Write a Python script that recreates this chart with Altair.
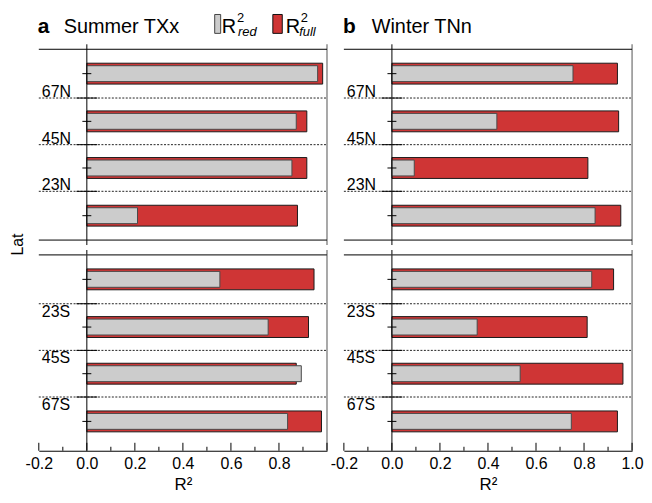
import altair as alt
import pandas as pd

FONT = "Liberation Sans"
RED = "#cf3535"
GRAY = "#cccccc"
PANEL_W = 290
SUB_H = 202

X_MIN, X_MAX = -0.2, 1.0

# latitude band centres (deg) and band boundaries
north_centers = [78.5, 56.0, 34.0, 11.5]
south_centers = [-11.5, -34.0, -56.0, -78.5]
north_bounds = [67, 45, 23]
north_bound_labels = ["67N", "45N", "23N"]
south_bounds = [-23, -45, -67]
south_bound_labels = ["23S", "45S", "67S"]

# a: Summer TXx
txx_full_north = [0.982, 0.916, 0.916, 0.877]
txx_red_north = [0.961, 0.872, 0.854, 0.211]
txx_full_south = [0.946, 0.923, 0.872, 0.977]
txx_red_south = [0.554, 0.755, 0.893, 0.836]

# b: Winter TNn
tnn_full_north = [0.939, 0.944, 0.816, 0.953]
tnn_red_north = [0.754, 0.437, 0.093, 0.846]
tnn_full_south = [0.923, 0.813, 0.962, 0.939]
tnn_red_south = [0.832, 0.355, 0.534, 0.747]

x_major = [-0.2, 0.0, 0.2, 0.4, 0.6, 0.8, 1.0]
x_minor = [-0.1, 0.1, 0.3, 0.5, 0.7, 0.9]
x_labels_a = [-0.2, 0.0, 0.2, 0.4, 0.6, 0.8]
x_labels_b = [-0.2, 0.0, 0.2, 0.4, 0.6, 0.8, 1.0]

one = pd.DataFrame({"k": [0]})


def txt(s, x, y, size, **kw):
    return alt.Chart(one).mark_text(
        text=s, align="left", baseline="alphabetic", fontSize=size, color="black", **kw
    ).encode(x=alt.value(x), y=alt.value(y))


def header(letter, name, name_x, legend=False):
    layers = [
        txt(letter, -1, -11, 21, fontWeight="bold"),
        txt(name, name_x, -11, 20),
    ]
    if legend:
        layers += [
            alt.Chart(one).mark_rect(fill=GRAY, stroke="#444", strokeWidth=1).encode(
                x=alt.value(177), x2=alt.value(183), y=alt.value(-30), y2=alt.value(-11)),
            txt("R", 184, -11, 20),
            txt("2", 199.5, -22, 13),
            txt("red", 200.5, -8, 13, fontStyle="italic"),
            alt.Chart(one).mark_rect(fill=RED, stroke="#111", strokeWidth=1).encode(
                x=alt.value(235.5), x2=alt.value(245), y=alt.value(-30), y2=alt.value(-11)),
            txt("R", 248.5, -11, 20),
            txt("2", 263.5, -22, 13),
            txt("full", 262, -8, 13, fontStyle="italic"),
        ]
    return layers


def subpanel(centers, full, red, bounds, blabels, north, xlabels=None, yaxis=None, extra=()):
    ydom = [0, 90] if north else [-90, 0]
    ysc = alt.Scale(domain=ydom, nice=False, zero=False)
    xsc = alt.Scale(domain=[X_MIN, X_MAX], nice=False, zero=False)
    if xlabels is not None:
        xax = alt.Axis(
            values=xlabels,
            labelExpr="datum.value < 0 ? '-' + format(-datum.value, '.1f') : format(datum.value, '.1f')",
            ticks=False, domain=True, domainColor="black", domainWidth=1, grid=False,
            labelFontSize=16, labelColor="black", labelPadding=5, labelFlush=False,
            title="R²", titleFontSize=17, titleFontWeight="normal", titleColor="black",
            titlePadding=5,
        )
    else:
        xax = None

    def X(f):
        return alt.X(f, type="quantitative", scale=xsc, axis=xax)

    def Y(f):
        return alt.Y(f, type="quantitative", scale=ysc, axis=yaxis)

    bars_df = pd.DataFrame({"lat": centers, "full": full, "red": red})
    bounds_df = pd.DataFrame({"lat": bounds, "label": blabels})

    layers = []
    layers.append(
        alt.Chart(bounds_df).mark_rule(strokeDash=[2, 1.5], color="#222", strokeWidth=1)
        .encode(y=Y("lat"), x=alt.value(0), x2=alt.value(PANEL_W))
    )
    layers.append(
        alt.Chart(bars_df).mark_bar(size=21, fill=RED, stroke="#1a1a1a", strokeWidth=1)
        .encode(x=X("full"), x2=alt.datum(0), y=Y("lat"))
    )
    layers.append(
        alt.Chart(bars_df).mark_bar(size=16, fill=GRAY, stroke="#4a4a4a", strokeWidth=1)
        .encode(x=X("red"), x2=alt.datum(0), y=Y("lat"))
    )
    layers.append(
        alt.Chart(bounds_df).mark_tick(orient="horizontal", size=21, thickness=1,
                                       color="black", opacity=1)
        .encode(x=alt.datum(0), y=Y("lat"))
    )
    layers.append(
        alt.Chart(bars_df).mark_tick(orient="horizontal", size=9, thickness=1,
                                     color="black", opacity=1)
        .encode(x=alt.datum(0), y=Y("lat"))
    )
    layers.append(
        alt.Chart(bounds_df).mark_text(align="left", baseline="alphabetic", dx=3,
                                       dy=-1 if north else 13, fontSize=16, color="black")
        .encode(x=alt.datum(X_MIN), y=Y("lat"), text="label:N")
    )
    # zero line and frame
    layers.append(alt.Chart(one).mark_rule(color="black", strokeWidth=1).encode(x=alt.datum(0)))
    layers.append(alt.Chart(one).mark_rule(color="#8c8c8c", strokeWidth=1.5).encode(x=alt.datum(X_MAX)))
    if north:
        layers.append(alt.Chart(one).mark_rule(color="black", strokeWidth=1).encode(y=alt.datum(90)))
        layers.append(alt.Chart(one).mark_rule(color="black", strokeWidth=1).encode(y=alt.datum(0)))
    else:
        layers.append(alt.Chart(one).mark_rule(color="#333", strokeWidth=1.3).encode(y=alt.datum(0)))
        layers.append(
            alt.Chart(pd.DataFrame({"v": x_major})).mark_rule(color="black", strokeWidth=1)
            .encode(x=X("v"), y=alt.value(SUB_H), y2=alt.value(SUB_H - 8))
        )
        layers.append(
            alt.Chart(pd.DataFrame({"v": x_minor})).mark_rule(color="black", strokeWidth=1)
            .encode(x=X("v"), y=alt.value(SUB_H), y2=alt.value(SUB_H - 4))
        )
    layers += list(extra)
    return alt.layer(*layers).properties(width=PANEL_W, height=SUB_H)


lat_axis = alt.Axis(
    title="Lat", labels=False, ticks=False, domain=False, grid=False,
    titleX=-21, titleY=201, titleAngle=270, titleAlign="center", titleBaseline="middle",
    titleFontSize=16, titleFontWeight="normal", titleColor="black",
)

a_top = subpanel(north_centers, txx_full_north, txx_red_north, north_bounds, north_bound_labels,
                 True, yaxis=lat_axis, extra=header("a", "Summer TXx", 25, legend=True))
a_bot = subpanel(south_centers, txx_full_south, txx_red_south, south_bounds, south_bound_labels,
                 False, xlabels=x_labels_a)
b_top = subpanel(north_centers, tnn_full_north, tnn_red_north, north_bounds, north_bound_labels,
                 True, extra=header("b", "Winter TNn", 28))
b_bot = subpanel(south_centers, tnn_full_south, tnn_red_south, south_bounds, south_bound_labels,
                 False, xlabels=x_labels_b)

chart = (
    alt.concat(a_top, b_top, a_bot, b_bot, columns=2,
               spacing={"row": 5, "column": 17}, bounds="flush")
    .properties(padding={"left": 2, "top": 3, "right": 0, "bottom": 0})
    .configure(font=FONT)
    .configure_view(stroke=None)
)

chart.save("out.html", embed_options={"renderer": "svg", "actions": False})
